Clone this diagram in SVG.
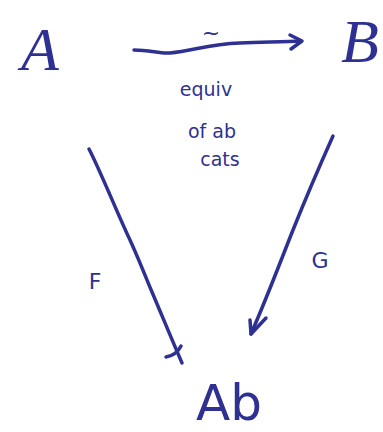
<svg xmlns="http://www.w3.org/2000/svg" width="383" height="432" viewBox="0 0 383 432">
<style>
.ink{fill:none;stroke:#2e3192;stroke-width:3.5;stroke-linecap:round;stroke-linejoin:round}
.t{fill:#2e3192;font-family:"DejaVu Sans",sans-serif}
.big{font-family:"Liberation Serif",serif;font-style:italic;font-size:62px}
.lbl{font-size:22px}
.note{font-size:19px}
</style>
<rect width="383" height="432" fill="#fff"/>
<g id="node-A"><text class="t big" x="40" y="70" text-anchor="middle">A</text></g>
<g id="node-B"><text class="t big" x="360" y="62" text-anchor="middle">B</text></g>
<g id="node-Ab"><text class="t" x="229" y="420" text-anchor="middle" font-size="50" font-family="Liberation Sans, sans-serif">Ab</text></g>
<g id="connectors">
<path class="ink" d="M134,50 C150,50 160,54 170,53 C195,50 210,44 240,43 C265,42 285,42 301,41"/>
<path class="ink" d="M290,35 L302,41 L291,49"/>
<path class="ink" d="M89,149 C100,170 118,215 130,240 C140,262 146,278 152,292 C163,318 172,340 182,363"/>
<path class="ink" d="M166,357 C172,356 178,352 181,346"/>
<path class="ink" d="M333,136 C320,165 305,200 293,230 C283,255 268,295 251,334"/>
<path class="ink" d="M250,320 L251,334 L266,318"/>
</g>
<g id="labels">
<text class="t lbl" x="211" y="40" text-anchor="middle">~</text>
<text class="t note" x="206" y="96" text-anchor="middle">equiv</text>
<text class="t note" x="212" y="138" text-anchor="middle">of ab</text>
<text class="t note" x="220" y="166" text-anchor="middle">cats</text>
<text class="t lbl" x="95" y="289" text-anchor="middle">F</text>
<text class="t lbl" x="320" y="268" text-anchor="middle">G</text>
</g>
</svg>
